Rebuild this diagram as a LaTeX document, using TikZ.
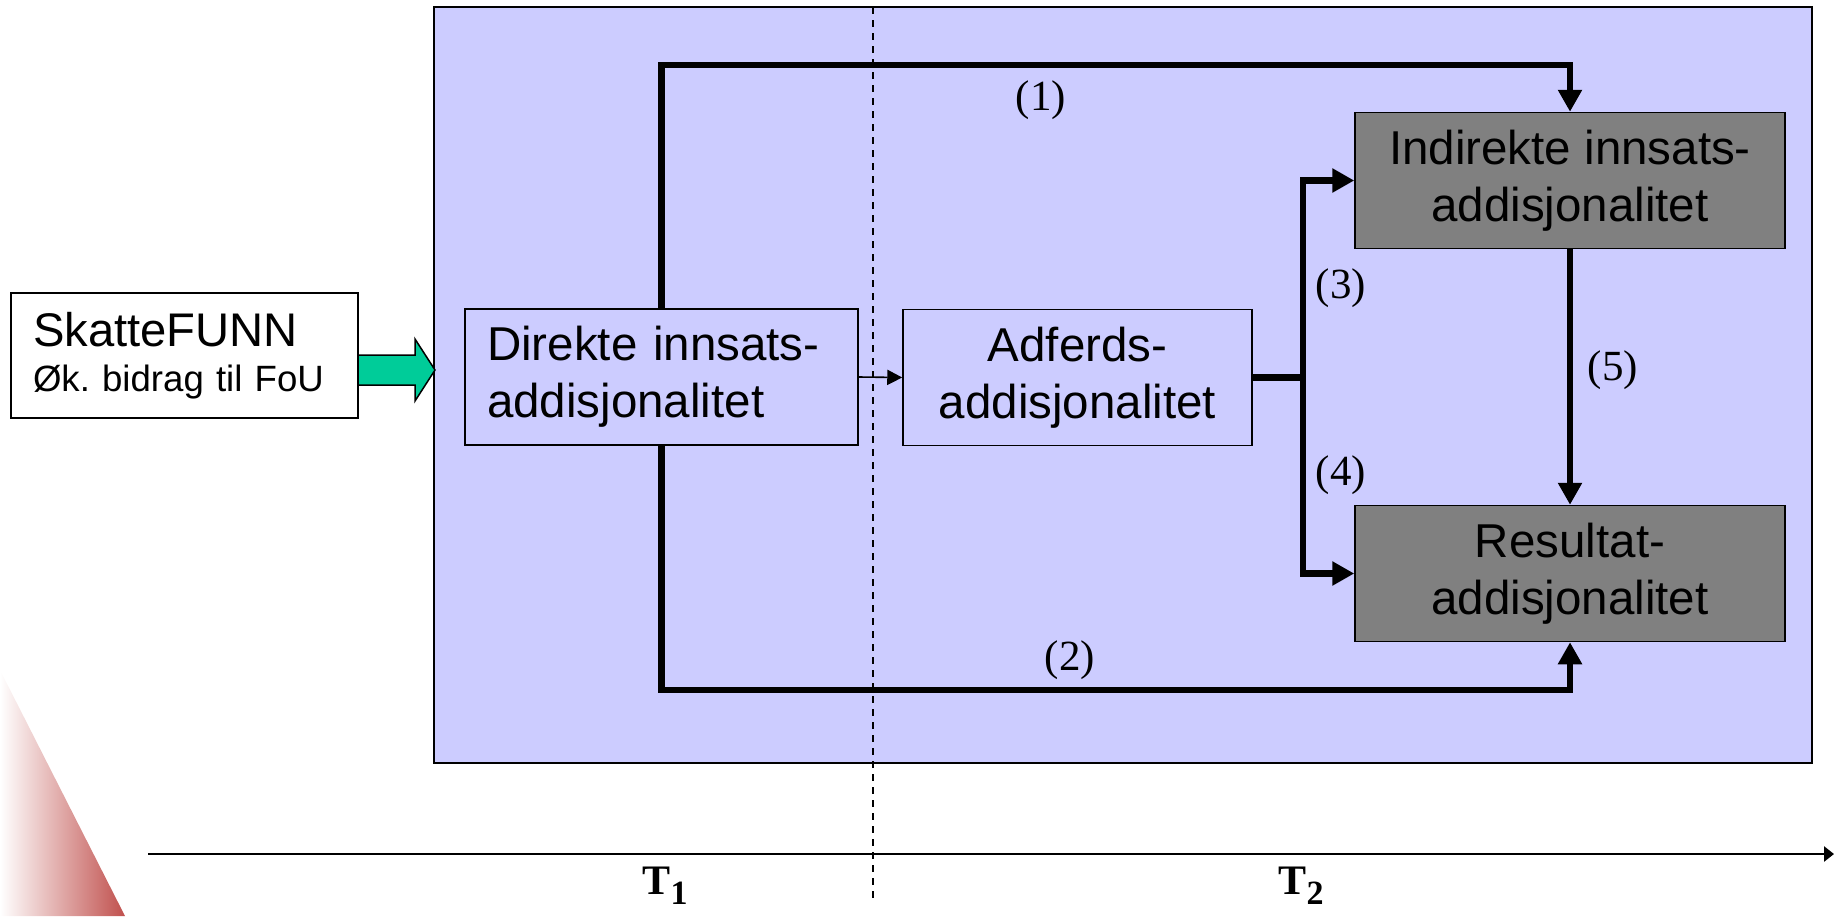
\documentclass[tikz,border=0pt]{standalone}
\usepackage{fontspec}
\setmainfont{Liberation Sans}
\newfontfamily\numfont{Liberation Serif}
\usetikzlibrary{arrows.meta}
\frenchspacing

\definecolor{panelblue}{RGB}{204,204,255}
\definecolor{boxgray}{RGB}{128,128,128}
\definecolor{pilgreen}{RGB}{0,204,153}
\definecolor{cornerred}{RGB}{192,80,77}
\newcommand{\tsub}[1]{T\raisebox{-0.24em}{\fontsize{17}{17}\selectfont #1}}

\begin{document}
\begin{tikzpicture}[x=0.5pt,y=-0.5pt,
        box/.style={draw,line width=0.75pt,inner sep=0pt,minimum height=68pt,
            font=\fontsize{23.75}{28.5}\selectfont},
        leftbox/.style={box,align=left,inner xsep=11pt},
        midbox/.style={box,align=center},
        effectbox/.style={midbox,fill=boxgray,minimum width=215pt},
        thickline/.style={line width=3.35pt},
        thickarrow/.style={thickline,-{Triangle[length=11pt,width=11.5pt]}},
        lbl/.style={font=\numfont\fontsize{21.5}{24}\selectfont},
        tlbl/.style={font=\numfont\bfseries\fontsize{21}{24}\selectfont,inner sep=1pt}]
    \useasboundingbox (0,0) rectangle (1834,916);
    % corner decoration
    \shade[left color=white,right color=cornerred] (0,670) -- (125,916) -- (0,916) -- cycle;
    \node[draw,line width=0.75pt,fill=panelblue,minimum width=689pt,minimum height=378pt] (panel) at (1123,385) {};
    \draw[line width=0.75pt,dash pattern=on 3.5pt off 3pt] (873,7) -- (873,900);
    % time axis
    \draw[line width=1.35pt,-{Triangle[length=5pt,width=7.5pt]}] (148,854) -- (1834,854);
    \node[tlbl] (t1) at (665,886) {\tsub{1}};
    \node[tlbl] (t2) at (1301,886) {\tsub{2}};

    \node[leftbox,fill=white,text width=151.5pt,minimum height=62.5pt,
        font=\fontsize{18.3}{22.5}\selectfont] (skatte) at (184.5,355.5)
        {{\fontsize{23.6}{22.5}\selectfont SkatteFUNN}\\Øk. bidrag til FoU};
    \draw[line width=0.75pt,fill=pilgreen] (358,355) -- (415,355) -- (415,339) -- (435,370)
        -- (415,401) -- (415,385) -- (358,385) -- cycle;

    \node[leftbox,text width=174.5pt] (direkte) at (661.5,377) {Direkte innsats-\\addisjonalitet};
    \node[midbox,minimum width=174.5pt] (adferd) at (1077.5,377.5) {Adferds-\\addisjonalitet};
    \node[effectbox] (indirekte) at (1570,180.5) {Indirekte innsats-\\addisjonalitet};
    \node[effectbox] (resultat) at (1570,573.5) {Resultat-\\addisjonalitet};

    \coordinate (toprail) at (0,65);
    \coordinate (botrail) at (0,690);
    \coordinate (split) at (1303,377.5);

    \draw[line width=0.8pt,-{Triangle[length=7.5pt,width=7.5pt]}] (direkte.east) -- (adferd.west);
    \draw[thickarrow] (direkte.north) |- (toprail -| indirekte.north) -- (indirekte.north);
    \draw[thickarrow] (direkte.south) |- (botrail -| resultat.south) -- (resultat.south);
    \draw[thickline] (adferd.east) -- (split);
    \draw[thickarrow] (split) |- (indirekte.west);
    \draw[thickarrow] (split) |- (resultat.west);
    \draw[thickarrow] (indirekte.south) -- (resultat.north);

    \node[lbl] (l1) at (1041,100) {(1)};
    \node[lbl] (l2) at (1070,660) {(2)};
    \node[lbl] (l3) at (1341,288) {(3)};
    \node[lbl] (l4) at (1341,475) {(4)};
    \node[lbl] (l5) at (1613,370) {(5)};
\end{tikzpicture}
\end{document}
